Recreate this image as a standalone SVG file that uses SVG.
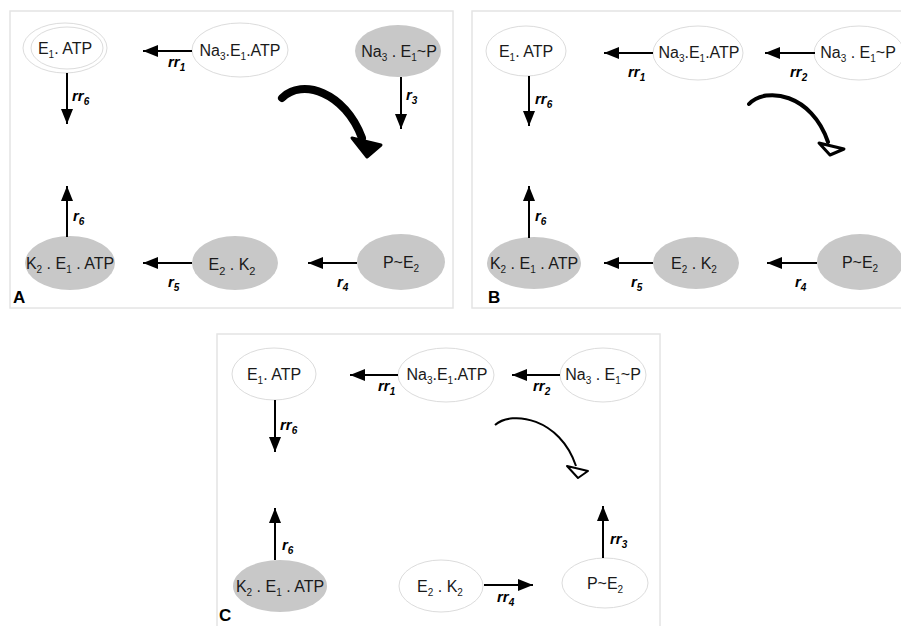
<svg xmlns="http://www.w3.org/2000/svg" width="901" height="626" viewBox="0 0 901 626">
<defs>
<marker id="ah" markerUnits="userSpaceOnUse" markerWidth="15" markerHeight="12" refX="15" refY="6" orient="auto">
<path d="M0,0 L15,6 L0,12 z" fill="#000"/>
</marker>
<style>
.panel{fill:#fff;stroke:#e4e4e4;stroke-width:1.5}
.lt{fill:#fff;stroke:#dcdcdc;stroke-width:1}
.gr{fill:#c8c8c8;stroke:none}
.t{font-family:"Liberation Sans",Arial,sans-serif;font-size:16px;fill:#1a1a1a;text-anchor:middle}
.lb{font-family:"Liberation Sans",Arial,sans-serif;font-size:15px;font-weight:bold;font-style:italic;fill:#000}
.pl{font-family:"Liberation Sans",Arial,sans-serif;font-size:17px;font-weight:bold;fill:#000}
.c{stroke:#000;stroke-width:2;fill:none;marker-end:url(#ah)}
</style>
</defs>
<rect width="901" height="626" fill="#fff"/>
<rect class="panel" x="10" y="11" width="443" height="297"/>
<rect class="panel" x="472" y="11" width="440" height="297"/>
<rect class="panel" x="217" y="334" width="443" height="300"/>

<!-- Panel A nodes -->
<g id="a_e1atp"><ellipse class="lt" cx="65" cy="48" rx="42" ry="25"/><ellipse class="lt" cx="67" cy="48" rx="36" ry="21"/><text class="t" x="65" y="54">E<tspan dy="4" font-size="10">1</tspan><tspan dy="-4">. ATP</tspan></text></g>
<g id="a_na3e1atp"><ellipse class="lt" cx="240" cy="50" rx="48" ry="27"/><text class="t" x="240" y="56">Na<tspan dy="4" font-size="10">3</tspan><tspan dy="-4">.E</tspan><tspan dy="4" font-size="10">1</tspan><tspan dy="-4">.ATP</tspan></text></g>
<g id="a_na3e1p"><ellipse class="gr" cx="398" cy="51" rx="43" ry="26"/><text class="t" x="399" y="57">Na<tspan dy="4" font-size="10">3</tspan><tspan dy="-4"> . E</tspan><tspan dy="4" font-size="10">1</tspan><tspan dy="-4">~P</tspan></text></g>
<g id="a_k2e1atp"><ellipse class="gr" cx="70" cy="263" rx="45" ry="27"/><text class="t" x="70" y="269">K<tspan dy="4" font-size="10">2</tspan><tspan dy="-4"> . E</tspan><tspan dy="4" font-size="10">1</tspan><tspan dy="-4"> . ATP</tspan></text></g>
<g id="a_e2k2"><ellipse class="gr" cx="235" cy="263" rx="43" ry="27"/><text class="t" x="232" y="270" font-size="19">E<tspan dy="5" font-size="11">2</tspan><tspan dy="-5"> . K</tspan><tspan dy="5" font-size="11">2</tspan></text></g>
<g id="a_pe2"><ellipse class="gr" cx="401" cy="262" rx="44" ry="28"/><text class="t" x="401" y="268">P~E<tspan dy="4" font-size="10">2</tspan></text></g>

<!-- Panel B nodes -->
<g id="b_e1atp"><ellipse class="lt" cx="526" cy="51" rx="40" ry="25"/><text class="t" x="526" y="57">E<tspan dy="4" font-size="10">1</tspan><tspan dy="-4">. ATP</tspan></text></g>
<g id="b_na3e1atp"><ellipse class="lt" cx="698" cy="53" rx="45" ry="27"/><text class="t" x="699" y="58">Na<tspan dy="4" font-size="10">3</tspan><tspan dy="-4">.E</tspan><tspan dy="4" font-size="10">1</tspan><tspan dy="-4">.ATP</tspan></text></g>
<g id="b_na3e1p"><ellipse class="lt" cx="859" cy="53" rx="45" ry="27"/><text class="t" x="858" y="58">Na<tspan dy="4" font-size="10">3</tspan><tspan dy="-4"> . E</tspan><tspan dy="4" font-size="10">1</tspan><tspan dy="-4">~P</tspan></text></g>
<g id="b_k2e1atp"><ellipse class="gr" cx="534" cy="263" rx="47" ry="26"/><text class="t" x="534" y="269">K<tspan dy="4" font-size="10">2</tspan><tspan dy="-4"> . E</tspan><tspan dy="4" font-size="10">1</tspan><tspan dy="-4"> . ATP</tspan></text></g>
<g id="b_e2k2"><ellipse class="gr" cx="696" cy="263" rx="43" ry="26"/><text class="t" x="694" y="269">E<tspan dy="4" font-size="10">2</tspan><tspan dy="-4"> . K</tspan><tspan dy="4" font-size="10">2</tspan></text></g>
<g id="b_pe2"><ellipse class="gr" cx="860" cy="262" rx="43" ry="28"/><text class="t" x="860" y="268">P~E<tspan dy="4" font-size="10">2</tspan></text></g>

<!-- Panel C nodes -->
<g id="c_e1atp"><ellipse class="lt" cx="274" cy="374" rx="42" ry="26"/><text class="t" x="274" y="380">E<tspan dy="4" font-size="10">1</tspan><tspan dy="-4">. ATP</tspan></text></g>
<g id="c_na3e1atp"><ellipse class="lt" cx="446" cy="375" rx="48" ry="27"/><text class="t" x="447" y="380">Na<tspan dy="4" font-size="10">3</tspan><tspan dy="-4">.E</tspan><tspan dy="4" font-size="10">1</tspan><tspan dy="-4">.ATP</tspan></text></g>
<g id="c_na3e1p"><ellipse class="lt" cx="603" cy="375" rx="43" ry="27"/><text class="t" x="603" y="380">Na<tspan dy="4" font-size="10">3</tspan><tspan dy="-4"> . E</tspan><tspan dy="4" font-size="10">1</tspan><tspan dy="-4">~P</tspan></text></g>
<g id="c_k2e1atp"><ellipse class="gr" cx="280" cy="586" rx="47" ry="26"/><text class="t" x="280" y="592">K<tspan dy="4" font-size="10">2</tspan><tspan dy="-4"> . E</tspan><tspan dy="4" font-size="10">1</tspan><tspan dy="-4"> . ATP</tspan></text></g>
<g id="c_e2k2"><ellipse class="lt" cx="441" cy="586" rx="42" ry="26"/><text class="t" x="440" y="592">E<tspan dy="4" font-size="10">2</tspan><tspan dy="-4"> . K</tspan><tspan dy="4" font-size="10">2</tspan></text></g>
<g id="c_pe2"><ellipse class="lt" cx="605" cy="583" rx="43" ry="25"/><text class="t" x="605" y="589">P~E<tspan dy="4" font-size="10">2</tspan></text></g>

<!-- Connectors -->
<g id="connectors">
<line class="c" x1="192" y1="51" x2="143" y2="51"/>
<line class="c" x1="67" y1="73" x2="67" y2="124"/>
<line class="c" x1="401" y1="77" x2="401" y2="129"/>
<line class="c" x1="67" y1="237" x2="67" y2="186"/>
<line class="c" x1="192" y1="263" x2="143" y2="263"/>
<line class="c" x1="357" y1="263" x2="308" y2="263"/>
<path d="M282,98 C302,78 345,92 362,138" fill="none" stroke="#000" stroke-width="8" stroke-linecap="round"/>
<polygon points="352,138 381,145 367,157" fill="#000" stroke="#000" stroke-width="3" stroke-linejoin="round"/>

<line class="c" x1="653" y1="53" x2="604" y2="53"/>
<line class="c" x1="815" y1="53" x2="765" y2="53"/>
<line class="c" x1="529" y1="76" x2="529" y2="126"/>
<line class="c" x1="529" y1="238" x2="529" y2="186"/>
<line class="c" x1="653" y1="263" x2="604" y2="263"/>
<line class="c" x1="817" y1="263" x2="767" y2="263"/>
<path d="M749,104 C766,86 812,94 828,142" fill="none" stroke="#000" stroke-width="4" stroke-linecap="round"/>
<polygon points="819,143 844,149 830,155" fill="#fff" stroke="#000" stroke-width="3" stroke-linejoin="round"/>

<line class="c" x1="398" y1="375" x2="350" y2="375"/>
<line class="c" x1="560" y1="375" x2="512" y2="375"/>
<line class="c" x1="275" y1="400" x2="275" y2="452"/>
<line class="c" x1="275" y1="560" x2="275" y2="508"/>
<line class="c" x1="484" y1="585" x2="533" y2="585"/>
<line class="c" x1="603" y1="558" x2="603" y2="506"/>
<path d="M495,425 C512,410 560,418 576,466" fill="none" stroke="#000" stroke-width="2"/>
<polygon points="567,466 588,471 578,478" fill="#fff" stroke="#000" stroke-width="2" stroke-linejoin="round"/>
</g>

<!-- Reaction labels -->
<g id="labels">
<text class="lb" x="168" y="67">rr<tspan dy="4" font-size="10">1</tspan></text>
<text class="lb" x="72" y="101">rr<tspan dy="4" font-size="10">6</tspan></text>
<text class="lb" x="406" y="100">r<tspan dy="4" font-size="10">3</tspan></text>
<text class="lb" x="73" y="221">r<tspan dy="4" font-size="10">6</tspan></text>
<text class="lb" x="168" y="287">r<tspan dy="4" font-size="10">5</tspan></text>
<text class="lb" x="337" y="287">r<tspan dy="4" font-size="10">4</tspan></text>

<text class="lb" x="628" y="77">rr<tspan dy="4" font-size="10">1</tspan></text>
<text class="lb" x="790" y="77">rr<tspan dy="4" font-size="10">2</tspan></text>
<text class="lb" x="535" y="104">rr<tspan dy="4" font-size="10">6</tspan></text>
<text class="lb" x="535" y="221">r<tspan dy="4" font-size="10">6</tspan></text>
<text class="lb" x="631" y="287">r<tspan dy="4" font-size="10">5</tspan></text>
<text class="lb" x="795" y="287">r<tspan dy="4" font-size="10">4</tspan></text>

<text class="lb" x="378" y="391">rr<tspan dy="4" font-size="10">1</tspan></text>
<text class="lb" x="533" y="391">rr<tspan dy="4" font-size="10">2</tspan></text>
<text class="lb" x="280" y="430">rr<tspan dy="4" font-size="10">6</tspan></text>
<text class="lb" x="282" y="550">r<tspan dy="4" font-size="10">6</tspan></text>
<text class="lb" x="610" y="544">rr<tspan dy="4" font-size="10">3</tspan></text>
<text class="lb" x="497" y="602">rr<tspan dy="4" font-size="10">4</tspan></text>
</g>

<text class="pl" x="13" y="303">A</text>
<text class="pl" x="488" y="303">B</text>
<text class="pl" x="219" y="621">C</text>
</svg>
